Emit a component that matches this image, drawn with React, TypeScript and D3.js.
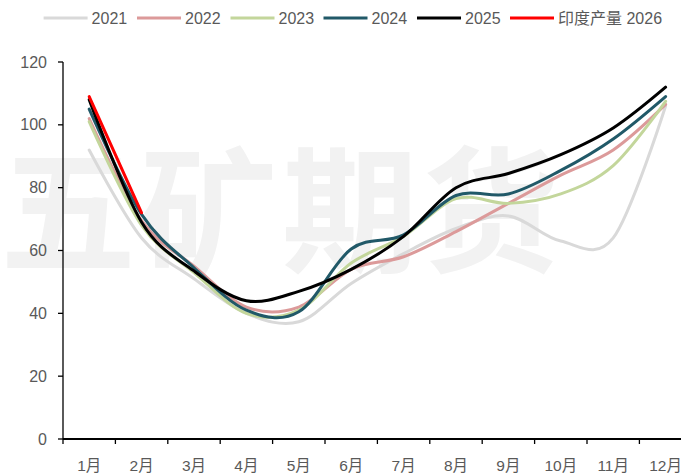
import React from "react";
import * as d3 from "d3";

// values
const months = ["1月", "2月", "3月", "4月", "5月", "6月", "7月", "8月", "9月", "10月", "11月", "12月"];
const yTicks = [0, 20, 40, 60, 80, 100, 120];

const v2021 = [92, 64, 51, 40, 37.3, 49.5, 59, 67, 71, 63, 64, 106];
const v2022 = [102, 69.5, 55, 42, 42, 54, 58, 66, 75, 84, 92, 106.5];
const v2023 = [101, 68, 53, 40, 41, 56, 64.5, 76.5, 75, 78, 87, 107.5];
const v2024 = [105, 71.5, 54.5, 41, 40.5, 60.5, 65, 77.5, 78, 85.5, 95.5, 109];
const v2025 = [108, 69, 53.5, 44, 47, 54, 64.5, 80, 84.5, 90.5, 99, 112];
const v2026 = [109, 72];

const series = [
  { name: "2021", values: v2021, color: "#d9d9d9" },
  { name: "2022", values: v2022, color: "#dc9a9a" },
  { name: "2023", values: v2023, color: "#c3d69b" },
  { name: "2024", values: v2024, color: "#215968" },
  { name: "2025", values: v2025, color: "#000000" },
  { name: "印度产量 2026", values: v2026, color: "#ff0000" },
];

const width = 681;
const height = 476;
const margin = { top: 62, left: 63, bottom: 37 };
const bandW = 52.4;

const App: React.FC = () => {
  const x = d3
    .scaleBand<string>()
    .domain(months)
    .range([margin.left, margin.left + bandW * months.length]);
  const y = d3
    .scaleLinear()
    .domain([0, 120])
    .range([height - margin.bottom, margin.top]);

  const line = d3
    .line<number>()
    .x((_, i) => (x(months[i]) as number) + x.bandwidth() / 2)
    .y((d) => y(d))
    .curve(d3.curveCardinal.tension(0));

  const font = "'Liberation Sans', 'Noto Sans CJK SC', sans-serif";
  const legendX = [43.6, 137, 230.5, 323.5, 417, 510];

  return (
    <svg
      width={width}
      height={height}
      style={{ position: "absolute", left: 0, top: 0, background: "#fff" }}
    >
      {/* watermark */}
      <text
        x={0}
        y={262}
        fontFamily="'Noto Sans CJK SC', sans-serif"
        fontWeight={700}
        fontSize={136}
        letterSpacing={5}
        fill="#f2f2f2"
      >
        五矿期货
      </text>

      {/* y axis */}
      <line x1={margin.left} x2={margin.left} y1={y(120)} y2={y(0)} stroke="#000" strokeWidth={1.3} />
      {yTicks.map((t) => (
        <g key={t}>
          <line x1={margin.left - 5} x2={margin.left} y1={y(t)} y2={y(t)} stroke="#000" strokeWidth={1.3} />
          <text
            x={47}
            y={y(t)}
            dy="0.35em"
            textAnchor="end"
            fontFamily={font}
            fontSize={16}
            fill="#595959"
          >
            {t}
          </text>
        </g>
      ))}

      {/* x axis */}
      <line x1={margin.left} x2={width} y1={y(0)} y2={y(0)} stroke="#000" strokeWidth={2} />
      {months.map((m) => (
        <g key={m}>
          <line
            x1={x(m) as number}
            x2={x(m) as number}
            y1={y(0)}
            y2={y(0) + 5}
            stroke="#000"
            strokeWidth={1.3}
          />
          <text
            x={(x(m) as number) + x.bandwidth() / 2}
            y={y(0) + 32}
            textAnchor="middle"
            fontFamily={font}
            fontSize={15.5}
            fill="#595959"
          >
            {m}
          </text>
        </g>
      ))}

      {/* series lines */}
      {series.map((s) => (
        <path
          key={s.name}
          d={line(s.values) ?? ""}
          fill="none"
          stroke={s.color}
          strokeWidth={3}
          strokeLinecap="round"
        />
      ))}

      {/* legend */}
      {series.map((s, i) => (
        <g key={s.name} transform={`translate(${legendX[i]},18)`}>
          <line x1={0} x2={44} y1={0} y2={0} stroke={s.color} strokeWidth={3} />
          <text x={48} y={0} dy="0.35em" fontFamily={font} fontSize={16} fill="#595959">
            {s.name}
          </text>
        </g>
      ))}
    </svg>
  );
};

export default App;
